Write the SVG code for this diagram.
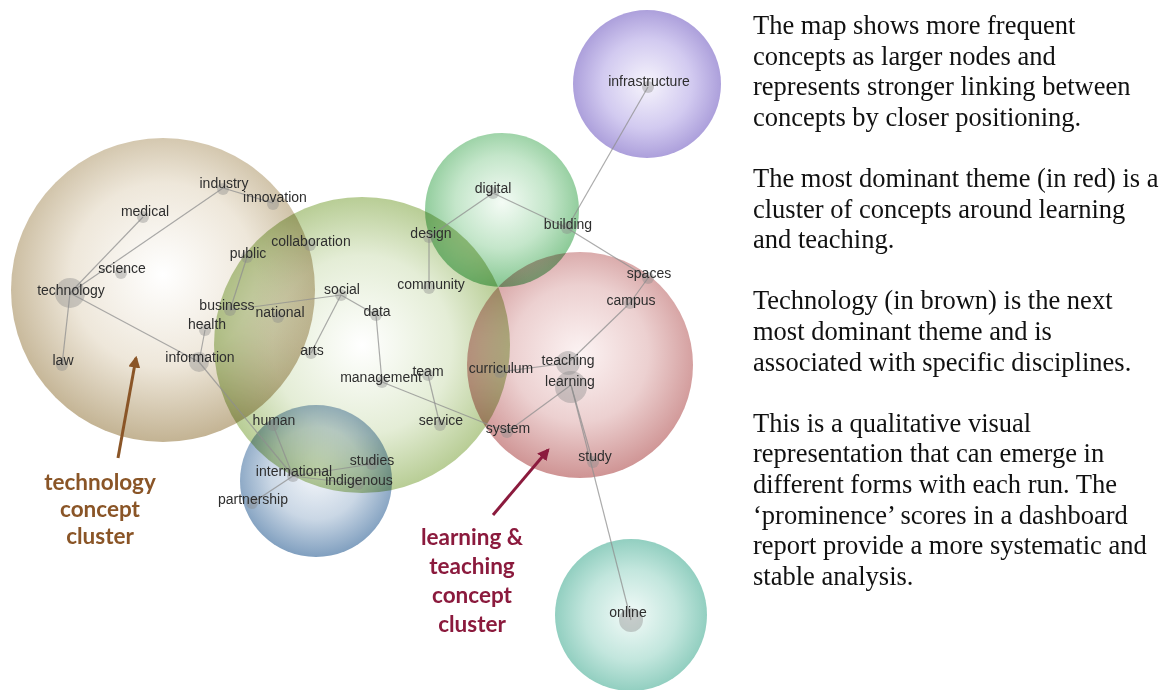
<svg xmlns="http://www.w3.org/2000/svg" width="1172" height="690" viewBox="0 0 1172 690">
<style>
.theme{mix-blend-mode:multiply}
.lnk line{stroke:#8f8f8f;stroke-width:1.2;stroke-opacity:0.75}
.dot{fill:#8a8a8a;fill-opacity:0.4}
.lbl{font-family:"Liberation Sans",Arial,sans-serif;font-size:14px;fill:#2e2e2e;text-anchor:middle}
.para{font-family:"Liberation Serif","Times New Roman",serif;font-size:26.5px;fill:#111}
.clab{font-family:Lato,"Open Sans",sans-serif;font-weight:bold;font-size:22.5px;text-anchor:middle}
</style>
<defs>
<radialGradient id="gBrown" cx="50%" cy="45%" r="55%"><stop offset="0" stop-color="#ffffff"/><stop offset="0.55" stop-color="#eee7da"/><stop offset="1" stop-color="#c3b393"/></radialGradient>
<radialGradient id="gGreen" cx="50%" cy="50%" r="55%"><stop offset="0" stop-color="#ffffff"/><stop offset="0.55" stop-color="#e4edd6"/><stop offset="1" stop-color="#adc585"/></radialGradient>
<radialGradient id="gDig" cx="50%" cy="45%" r="55%"><stop offset="0" stop-color="#f4fbf5"/><stop offset="0.55" stop-color="#c4e6ca"/><stop offset="1" stop-color="#86c792"/></radialGradient>
<radialGradient id="gRed" cx="50%" cy="45%" r="55%"><stop offset="0" stop-color="#fcf3f3"/><stop offset="0.55" stop-color="#ecd0d0"/><stop offset="1" stop-color="#cf9494"/></radialGradient>
<radialGradient id="gBlue" cx="50%" cy="45%" r="55%"><stop offset="0" stop-color="#f3f6fa"/><stop offset="0.55" stop-color="#cad7e5"/><stop offset="1" stop-color="#809fbf"/></radialGradient>
<radialGradient id="gPur" cx="50%" cy="50%" r="55%"><stop offset="0" stop-color="#f6f4fc"/><stop offset="0.55" stop-color="#d2caf0"/><stop offset="1" stop-color="#a395d6"/></radialGradient>
<radialGradient id="gTeal" cx="50%" cy="50%" r="55%"><stop offset="0" stop-color="#f2faf8"/><stop offset="0.55" stop-color="#c2e6dd"/><stop offset="1" stop-color="#86c9b9"/></radialGradient>
<marker id="arrBrown" viewBox="0 0 10 10" refX="8" refY="5" markerWidth="4" markerHeight="4" orient="auto"><path d="M0,0 L10,5 L0,10 z" fill="#8a5527"/></marker>
<marker id="arrRed" viewBox="0 0 10 10" refX="8" refY="5" markerWidth="4" markerHeight="4" orient="auto"><path d="M0,0 L10,5 L0,10 z" fill="#8b1a3d"/></marker>
</defs>
<rect width="1172" height="690" fill="#ffffff"/>

<g id="theme-technology"><circle class="theme" cx="163" cy="290" r="152" fill="url(#gBrown)"/></g>
<g id="theme-social"><circle class="theme" cx="362" cy="345" r="148" fill="url(#gGreen)"/></g>
<g id="theme-digital"><circle class="theme" cx="502" cy="210" r="77" fill="url(#gDig)"/></g>
<g id="theme-learning"><circle class="theme" cx="580" cy="365" r="113" fill="url(#gRed)"/></g>
<g id="theme-international"><circle class="theme" cx="316" cy="481" r="76" fill="url(#gBlue)"/></g>
<g id="theme-infrastructure"><circle class="theme" cx="647" cy="84" r="74" fill="url(#gPur)"/></g>
<g id="theme-online"><circle class="theme" cx="631" cy="615" r="76" fill="url(#gTeal)"/></g>

<g id="connectors" class="lnk">
<line x1="70" y1="293" x2="143" y2="217"/>
<line x1="70" y1="293" x2="223" y2="188"/>
<line x1="70" y1="293" x2="62" y2="365"/>
<line x1="70" y1="293" x2="199" y2="362"/>
<line x1="223" y1="188" x2="273" y2="203"/>
<line x1="247" y1="257" x2="230" y2="310"/>
<line x1="230" y1="310" x2="341" y2="295"/>
<line x1="205" y1="330" x2="199" y2="362"/>
<line x1="199" y1="362" x2="293" y2="476"/>
<line x1="273" y1="425" x2="293" y2="476"/>
<line x1="341" y1="295" x2="311" y2="353"/>
<line x1="341" y1="295" x2="376" y2="315"/>
<line x1="376" y1="315" x2="382" y2="382"/>
<line x1="382" y1="382" x2="507" y2="432"/>
<line x1="428" y1="375" x2="440" y2="425"/>
<line x1="429" y1="237" x2="429" y2="288"/>
<line x1="429" y1="237" x2="493" y2="193"/>
<line x1="493" y1="193" x2="567" y2="228"/>
<line x1="567" y1="228" x2="648" y2="278"/>
<line x1="648" y1="87" x2="567" y2="228"/>
<line x1="648" y1="278" x2="630" y2="303"/>
<line x1="630" y1="303" x2="568" y2="363"/>
<line x1="500" y1="372" x2="568" y2="363"/>
<line x1="571" y1="385" x2="507" y2="432"/>
<line x1="571" y1="385" x2="593" y2="462"/>
<line x1="571" y1="385" x2="631" y2="620"/>
<line x1="293" y1="476" x2="252" y2="503"/>
<line x1="293" y1="476" x2="372" y2="464"/>
<line x1="293" y1="476" x2="358" y2="484"/>
</g>

<g id="n-technology"><circle class="dot" cx="70" cy="293" r="15"/><text class="lbl" x="71" y="295">technology</text></g>
<g id="n-medical"><circle class="dot" cx="143" cy="217" r="6"/><text class="lbl" x="145" y="216">medical</text></g>
<g id="n-industry"><circle class="dot" cx="223" cy="189" r="6"/><text class="lbl" x="224" y="188">industry</text></g>
<g id="n-innovation"><circle class="dot" cx="273" cy="204" r="6"/><text class="lbl" x="275" y="202">innovation</text></g>
<g id="n-science"><circle class="dot" cx="121" cy="273" r="6"/><text class="lbl" x="122" y="273">science</text></g>
<g id="n-law"><circle class="dot" cx="62" cy="365" r="6"/><text class="lbl" x="63" y="365">law</text></g>
<g id="n-information"><circle class="dot" cx="199" cy="362" r="10"/><text class="lbl" x="200" y="362">information</text></g>
<g id="n-health"><circle class="dot" cx="205" cy="330" r="6"/><text class="lbl" x="207" y="329">health</text></g>
<g id="n-business"><circle class="dot" cx="230" cy="310" r="6"/><text class="lbl" x="227" y="310">business</text></g>
<g id="n-public"><circle class="dot" cx="247" cy="257" r="6"/><text class="lbl" x="248" y="258">public</text></g>
<g id="n-national"><circle class="dot" cx="278" cy="317" r="6"/><text class="lbl" x="280" y="317">national</text></g>
<g id="n-collaboration"><circle class="dot" cx="310" cy="245" r="6"/><text class="lbl" x="311" y="246">collaboration</text></g>
<g id="n-social"><circle class="dot" cx="341" cy="295" r="6"/><text class="lbl" x="342" y="294">social</text></g>
<g id="n-data"><circle class="dot" cx="376" cy="315" r="6"/><text class="lbl" x="377" y="316">data</text></g>
<g id="n-arts"><circle class="dot" cx="311" cy="353" r="6"/><text class="lbl" x="312" y="355">arts</text></g>
<g id="n-management"><circle class="dot" cx="382" cy="382" r="6"/><text class="lbl" x="381" y="382">management</text></g>
<g id="n-team"><circle class="dot" cx="428" cy="375" r="6"/><text class="lbl" x="428" y="376">team</text></g>
<g id="n-service"><circle class="dot" cx="440" cy="425" r="6"/><text class="lbl" x="441" y="425">service</text></g>
<g id="n-community"><circle class="dot" cx="429" cy="288" r="6"/><text class="lbl" x="431" y="289">community</text></g>
<g id="n-design"><circle class="dot" cx="429" cy="237" r="6"/><text class="lbl" x="431" y="238">design</text></g>
<g id="n-digital"><circle class="dot" cx="493" cy="193" r="6"/><text class="lbl" x="493" y="193">digital</text></g>
<g id="n-building"><circle class="dot" cx="567" cy="228" r="6"/><text class="lbl" x="568" y="229">building</text></g>
<g id="n-infrastructure"><circle class="dot" cx="648" cy="87" r="6"/><text class="lbl" x="649" y="86">infrastructure</text></g>
<g id="n-spaces"><circle class="dot" cx="648" cy="278" r="6"/><text class="lbl" x="649" y="278">spaces</text></g>
<g id="n-campus"><circle class="dot" cx="630" cy="303" r="6"/><text class="lbl" x="631" y="305">campus</text></g>
<g id="n-curriculum"><circle class="dot" cx="500" cy="372" r="6"/><text class="lbl" x="501" y="373">curriculum</text></g>
<g id="n-teaching"><circle class="dot" cx="568" cy="363" r="12"/><text class="lbl" x="568" y="365">teaching</text></g>
<g id="n-learning"><circle class="dot" cx="571" cy="387" r="16"/><text class="lbl" x="570" y="386">learning</text></g>
<g id="n-system"><circle class="dot" cx="507" cy="432" r="6"/><text class="lbl" x="508" y="433">system</text></g>
<g id="n-study"><circle class="dot" cx="593" cy="462" r="6"/><text class="lbl" x="595" y="461">study</text></g>
<g id="n-online"><circle class="dot" cx="631" cy="620" r="12"/><text class="lbl" x="628" y="617">online</text></g>
<g id="n-human"><circle class="dot" cx="273" cy="425" r="6"/><text class="lbl" x="274" y="425">human</text></g>
<g id="n-international"><circle class="dot" cx="293" cy="476" r="6"/><text class="lbl" x="294" y="476">international</text></g>
<g id="n-studies"><circle class="dot" cx="372" cy="464" r="6"/><text class="lbl" x="372" y="465">studies</text></g>
<g id="n-indigenous"><circle class="dot" cx="358" cy="484" r="6"/><text class="lbl" x="359" y="485">indigenous</text></g>
<g id="n-partnership"><circle class="dot" cx="252" cy="503" r="6"/><text class="lbl" x="253" y="504">partnership</text></g>

<g id="label-technology-cluster">
<line x1="118" y1="458" x2="136" y2="358" stroke="#8a5527" stroke-width="3" marker-end="url(#arrBrown)"/>
<text class="clab" fill="#8a5527"><tspan x="100" y="490">technology</tspan><tspan x="100" y="517">concept</tspan><tspan x="100" y="544">cluster</tspan></text>
</g>
<g id="label-learning-cluster">
<line x1="493" y1="515" x2="548" y2="450" stroke="#8b1a3d" stroke-width="3" marker-end="url(#arrRed)"/>
<text class="clab" fill="#8b1a3d"><tspan x="472" y="545">learning &amp;</tspan><tspan x="472" y="574">teaching</tspan><tspan x="472" y="603">concept</tspan><tspan x="472" y="632">cluster</tspan></text>
</g>

<g id="description">
<text class="para">
<tspan x="753" y="34">The map shows more frequent</tspan>
<tspan x="753" y="64.6">concepts as larger nodes and</tspan>
<tspan x="753" y="95.2">represents stronger linking between</tspan>
<tspan x="753" y="125.8">concepts by closer positioning.</tspan>
<tspan x="753" y="187">The most dominant theme (in red) is a</tspan>
<tspan x="753" y="217.6">cluster of concepts around learning</tspan>
<tspan x="753" y="248.2">and teaching.</tspan>
<tspan x="753" y="309.4">Technology (in brown) is the next</tspan>
<tspan x="753" y="340">most dominant theme and is</tspan>
<tspan x="753" y="370.6">associated with specific disciplines.</tspan>
<tspan x="753" y="431.8">This is a qualitative visual</tspan>
<tspan x="753" y="462.4">representation that can emerge in</tspan>
<tspan x="753" y="493">different forms with each run. The</tspan>
<tspan x="753" y="523.6">‘prominence’ scores in a dashboard</tspan>
<tspan x="753" y="554.2">report provide a more systematic and</tspan>
<tspan x="753" y="584.8">stable analysis.</tspan>
</text>
</g>
</svg>
